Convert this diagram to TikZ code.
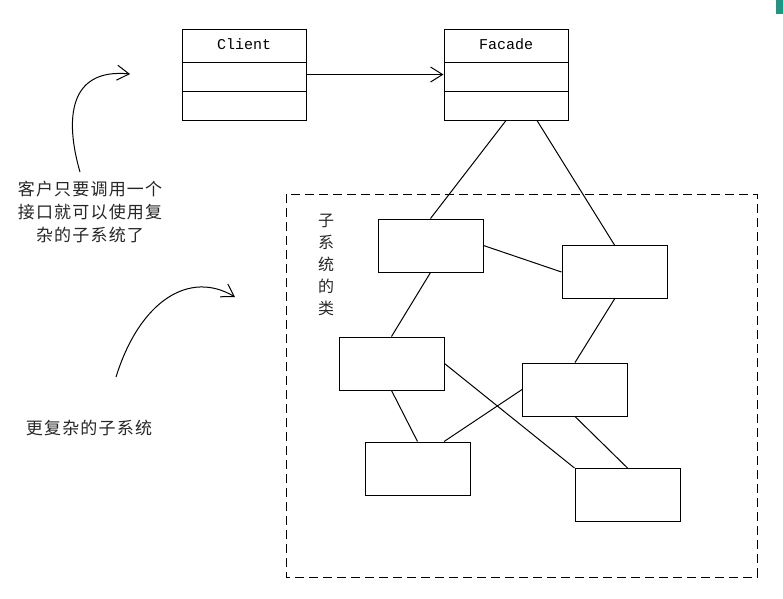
\documentclass[tikz,border=0pt]{standalone}
\usepackage{fontspec}
\setmonofont{Liberation Mono}
\newfontfamily\cjk{Noto Sans CJK SC}
\usetikzlibrary{arrows.meta,calc}
\definecolor{tealbar}{RGB}{32,150,128}
\begin{document}
\begin{tikzpicture}[>={Straight Barb[length=12pt,width=15pt]},x=1pt,y=-1pt,
	line width=1pt,
	umlbox/.style={draw,minimum width=124pt,minimum height=91pt,inner sep=0pt},
	subbox/.style={draw,minimum width=105pt,minimum height=53pt,inner sep=0pt},
	note/.style={align=center,text=black!85,font=\cjk\addfontfeature{LetterSpace=7}\fontsize{17}{23}\selectfont}]
	\useasboundingbox (0,0) rectangle (783,598);
	\fill[tealbar] (776,0) rectangle (783,14);
	% Client va Facade
	\node[umlbox] (Client) at (244,74.5) {};
	\node[umlbox] (Facade) at (506,74.5) {};
	\foreach \k/\t in {Client/Client,Facade/Facade}{
		\node[font=\ttfamily\fontsize{15}{18}\selectfont] at ($(\k.north)+(0,16)$) {\t};
		\draw ([yshift=-34pt]\k.north west) -- ([yshift=-34pt]\k.north east);
		\draw ([yshift=-63pt]\k.north west) -- ([yshift=-63pt]\k.north east);
	}
	\draw[->] (Client.east) -- (Facade.west);
	% cac lop con
	\draw[dash pattern=on 9pt off 5pt] (286,194) rectangle (757,577);
	\node[font=\cjk\fontsize{16}{22}\selectfont,align=center,text=black!85] (lbl) at (326,265) {子\\系\\统\\的\\类};
	\node[subbox] (A) at (430.5,245.5) {};
	\node[subbox] (B) at (614.5,272) {};
	\node[subbox] (C) at (391.5,363.5) {};
	\node[subbox] (D) at (575,389.5) {};
	\node[subbox] (E) at (417.5,468.5) {};
	\node[subbox] (F) at (627.5,495) {};
	\coordinate (fr) at ($(Facade.south)+(31,0)$);
	\draw (Facade.south) -- (A.north);
	\draw (fr) -- (B.north);
	\draw (A.east) -- (B.west);
	\draw (A.south) -- (C.north);
	\draw (B.south) -- (D.north);
	\draw (C.south) -- (E.north);
	\draw (C.east) -- (F.north west);
	\draw (D.west) -- ($(E.north)!0.5!(E.north east)$);
	\draw (D.south) -- (F.north);
	% ghi chu
	\node[note] (n1) at (90,212) {客户只要调用一个\\接口就可以使用复\\杂的子系统了};
	\node[note] (n2) at (89,428) {更复杂的子系统};
	\coordinate (s1) at (80,172);
	\coordinate (e1) at (130,74);
	\coordinate (s2) at (116,377);
	\coordinate (e2) at (235,297);
	\draw[->] (s1) .. controls (65,120) and (68,68) .. (e1);
	\draw[->] (s2) .. controls (140,300) and (190,270) .. (e2);
\end{tikzpicture}
\end{document}
